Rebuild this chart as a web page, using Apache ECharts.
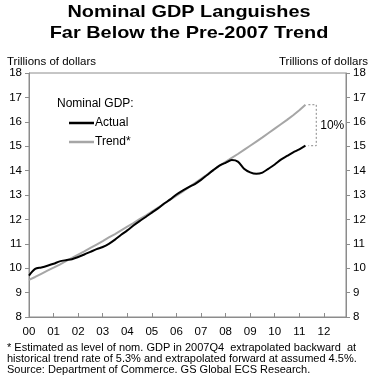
<!DOCTYPE html>
<html>
<head>
<meta charset="utf-8">
<script src="https://cdn.jsdelivr.net/npm/echarts@6/dist/echarts.min.js"></script>
<style>
html,body{margin:0;padding:0;background:#fff;}
#c{width:377px;height:388px;}
</style>
</head>
<body>
<div id="c"></div>
<script>
// Quarters 2000Q1 .. 2011Q2
var quarters = ['2000Q1','2000Q2','2000Q3','2000Q4','2001Q1','2001Q2','2001Q3','2001Q4',
 '2002Q1','2002Q2','2002Q3','2002Q4','2003Q1','2003Q2','2003Q3','2003Q4',
 '2004Q1','2004Q2','2004Q3','2004Q4','2005Q1','2005Q2','2005Q3','2005Q4',
 '2006Q1','2006Q2','2006Q3','2006Q4','2007Q1','2007Q2','2007Q3','2007Q4',
 '2008Q1','2008Q2','2008Q3','2008Q4','2009Q1','2009Q2','2009Q3','2009Q4',
 '2010Q1','2010Q2','2010Q3','2010Q4','2011Q1','2011Q2'];
// Nominal GDP, actual (trillions of dollars)
var actual = [9.70,9.97,10.03,10.10, 10.18,10.28,10.33,10.37,
 10.46,10.56,10.67,10.78, 10.87,11.00,11.17,11.37,
 11.55,11.75,11.93,12.10, 12.28,12.45,12.65,12.82,
 13.02,13.18,13.32,13.45, 13.62,13.82,14.02,14.20,
 14.32,14.43,14.37,14.08, 13.93,13.87,13.92,14.08,
 14.25,14.45,14.60,14.75, 14.87,15.02];
// Nominal GDP, trend* (trillions of dollars)
var trend = [9.52,9.64,9.77,9.90, 10.02,10.15,10.29,10.42,
 10.56,10.69,10.83,10.97, 11.11,11.26,11.40,11.55,
 11.70,11.85,12.01,12.16, 12.32,12.48,12.64,12.81,
 12.97,13.14,13.31,13.49, 13.66,13.84,14.02,14.20,
 14.36,14.52,14.68,14.85, 15.02,15.19,15.36,15.54,
 15.72,15.90,16.08,16.27, 16.47,16.70];
var yearTicks = ['00','01','02','03','04','05','06','07','08','09','10','11','12'];
var gapLabel = '10%';

function qx(q){ return +q.slice(0,4) + (+q.slice(5) - 1) / 4; }
var actualData = quarters.map(function(q,i){ return [qx(q), actual[i]]; });
var trendData = quarters.map(function(q,i){ return [qx(q), trend[i]]; });
var lastX = qx(quarters[quarters.length-1]);
var tTop = trend[trend.length-1], tBot = actual[actual.length-1];
var bx0 = lastX + 0.12, bx1 = lastX + 0.44;
var bracket = [[bx0,tTop],[bx1,tTop],[bx1,tBot],[bx0,tBot]];

var FONT = 'Liberation Sans, Arial, Helvetica, sans-serif';
var axisColor = '#8c8c8c';
var chart = echarts.init(document.getElementById('c'), null, {renderer:'canvas'});
var yAxisBase = {
  type:'value', min:8, max:18, interval:1,
  axisLine:{show:true, lineStyle:{color:axisColor, width:1}},
  axisTick:{show:true, inside:false, length:4, lineStyle:{color:axisColor}},
  splitLine:{show:false},
  axisLabel:{color:'#000', fontSize:11.5, fontFamily:FONT, margin:7}
};
chart.setOption({
  animation:false,
  backgroundColor:'#fff',
  grid:{left:29, right:31, top:73, bottom:71, show:true, borderColor:axisColor, borderWidth:1, containLabel:false},
  legend:{
    left:64, top:112, orient:'vertical', itemWidth:25, itemHeight:2.5, itemGap:7, icon:'rect',
    data:['Actual','Trend*'],
    textStyle:{color:'#000', fontSize:12, fontFamily:FONT, padding:[0,0,0,-4]}
  },
  xAxis:{
    type:'value', min:2000, max:2012.9, interval:1,
    axisLine:{show:true, lineStyle:{color:axisColor}},
    axisTick:{show:true, inside:true, length:4, lineStyle:{color:axisColor}},
    splitLine:{show:false},
    axisLabel:{color:'#000', fontSize:11.5, fontFamily:FONT, margin:9, showMaxLabel:false,
      formatter:function(v){ var i = Math.round(v - 2000); return (Math.abs(v - Math.round(v)) < 1e-6 && yearTicks[i]) ? yearTicks[i] : ''; }}
  },
  yAxis:[
    Object.assign({}, yAxisBase, {position:'left'}),
    Object.assign({}, yAxisBase, {position:'right'})
  ],
  graphic:[
    {type:'text', x:189, y:2, scaleX:1.17, style:{text:'Nominal GDP Languishes\nFar Below the Pre-2007 Trend',
      textAlign:'center', fontSize:17, fontWeight:'bold', lineHeight:21, fontFamily:FONT, fill:'#000'}},
    {type:'text', left:7, top:56, style:{text:'Trillions of dollars', fontSize:11.5, fontFamily:FONT, fill:'#000'}},
    {type:'text', right:9, top:56, style:{text:'Trillions of dollars', fontSize:11.5, fontFamily:FONT, fill:'#000'}},
    {type:'text', left:57, top:98, style:{text:'Nominal GDP:', fontSize:12, fontFamily:FONT, fill:'#000'}},
    {type:'text', left:7, top:342, style:{
      text:'* Estimated as level of nom. GDP in 2007Q4  extrapolated backward  at\nhistorical trend rate of 5.3% and extrapolated forward at assumed 4.5%.\nSource: Department of Commerce. GS Global ECS Research.',
      fontSize:11, lineHeight:11, fontFamily:FONT, fill:'#000'}}
  ],
  series:[
    {name:'Trend*', type:'line', data:trendData, symbol:'none', smooth:false,
      lineStyle:{color:'#a6a6a6', width:2}, itemStyle:{color:'#a6a6a6'}, z:2},
    {name:'Actual', type:'line', data:actualData, symbol:'none', smooth:0.3,
      lineStyle:{color:'#000', width:2}, itemStyle:{color:'#000'}, z:3},
    {name:'gap', type:'line', data:bracket, symbol:'none', silent:true,
      lineStyle:{color:'#888', width:1, type:[2,2]}, z:1}
  ]
});
var p = chart.convertToPixel({gridIndex:0}, [bx1, (tTop+tBot)/2]);
chart.setOption({graphic:[{id:'gapText', type:'text', x:p[0]+4, y:p[1],
  style:{text:gapLabel, fontSize:12, fontFamily:FONT, fill:'#000', textVerticalAlign:'middle'}}]});
</script>
</body>
</html>
